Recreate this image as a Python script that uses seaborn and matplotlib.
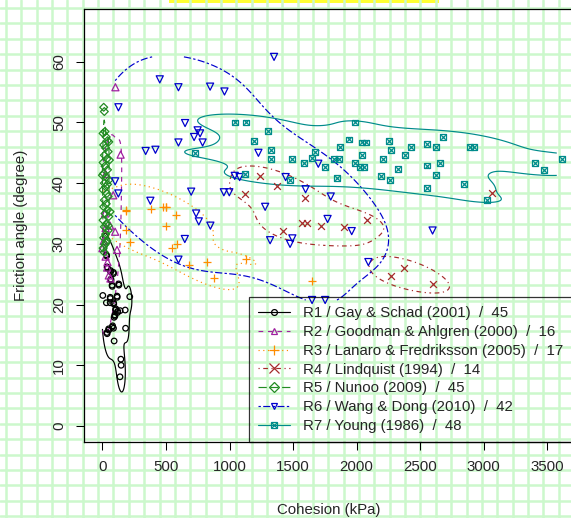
import numpy as np
import pandas as pd
import matplotlib
matplotlib.use("Agg")
import matplotlib.pyplot as plt
from matplotlib.lines import Line2D
from matplotlib.patches import Rectangle
import seaborn as sns

# ---------------- data ----------------
r1_x = [31, 37, 64, 87, 66, 76, 129, 61, 116, 215, 31, 61, 88, 104, 120, 139, 179, 98, 92, 78,
        49, 87, 182, 37, 92, 145, 147, 138,
        33, 38, 65, 86, 67, 77, 128, 62, 115, 3, 89, 105, 119, 97, 80, 50, 36]
r1_y = [28.2, 26.2, 25.6, 25.1, 24.2, 23.2, 23.2, 21.2, 21.2, 21.3, 20.3, 20.3, 20.3, 19.1, 18.9, 19.0,
        19.1, 18.1, 17.9, 16.3, 16.0, 16.1, 16.1, 15.2, 14.0, 11.0, 10.0, 8.1,
        28.0, 26.0, 25.4, 25.3, 24.0, 23.0, 23.4, 21.0, 21.4, 21.5, 20.1, 19.3, 18.7, 18.3, 16.5, 15.8, 15.4]

r2_x = [102, 143, 25, 85, 20, 60, 25, 100, 0, 115, 25, 37, 63, 50, 10, 40]
r2_y = [55.8, 44.7, 41.5, 38.0, 35.0, 33.0, 32.6, 32.0, 29.3, 29.0, 27.9, 26.1, 24.3, 24.8, 30.5, 27.0]

r3_x = [182, 385, 480, 499, 576, 497, 188, 218, 585, 546, 684, 823, 876, 1133, 1652, 500, 185]
r3_y = [35.4, 35.8, 36.0, 36.0, 34.7, 32.9, 32.3, 30.3, 29.9, 29.3, 26.6, 27.0, 24.3, 27.5, 23.8, 36.1, 35.5]

r4_x = [1238, 1370, 1124, 1419, 1594, 1571, 1606, 1722, 1901, 2083, 2375, 2271, 2597, 3067]
r4_y = [41.2, 39.6, 38.2, 32.2, 37.6, 33.4, 33.4, 32.9, 32.8, 33.9, 26.1, 24.7, 23.4, 38.3]

r5_x = [10, 15, 20, 5, 30, 40, 10, 25, 45, 15, 35, 5, 20, 40, 10, 30, 50, 15, 25, 5, 35, 45, 15,
        30, 10, 40, 20, 50, 5, 30, 15, 45, 25, 10, 35, 20, 5, 15, 40, 0, 55, 60, 45, 50, 30]
r5_y = [52.5, 51.8, 48.5, 48.2, 47.6, 47.0, 46.3, 45.8, 45.2, 44.6, 44.0, 43.4, 42.8, 42.2, 41.6,
        41.0, 40.5, 40.0, 39.4, 38.9, 38.3, 37.8, 37.2, 36.6, 36.1, 35.6, 35.0, 34.5, 33.9, 33.3,
        32.8, 32.2, 31.6, 31.0, 30.5, 29.9, 29.3, 28.6, 39.8, 41.3, 43.8, 35.3, 33.0, 46.8, 30.2]

r6_x = [1350, 451, 598, 847, 960, 126, 100, 125, 650, 749, 721, 768, 598, 788, 340, 417, 1227, 1041,
        1079, 1441, 698, 955, 998, 1280, 377, 737, 758, 849, 648, 1319, 1494, 1476, 598, 1698, 1598,
        1796, 1771, 1961, 2597, 2092, 1649, 1752]
r6_y = [60.8, 57.1, 55.8, 55.9, 55.1, 52.5, 40.3, 38.3, 49.9, 48.7, 47.6, 48.2, 46.7, 46.7, 45.3,
        45.5, 45.0, 41.2, 41.0, 41.0, 38.6, 38.5, 38.5, 36.1, 37.1, 35.0, 33.7, 33.0, 30.8, 30.6,
        30.9, 30.0, 27.4, 43.2, 39.0, 37.8, 34.1, 32.1, 32.2, 27.0, 20.75, 20.75]

r7_x = [730, 1040, 1128, 1300, 1195, 1325, 1325, 1490, 1122, 1476, 1586, 1650, 1670, 1752, 1825,
        1864, 1872, 1943, 1987, 2040, 2074, 2040, 1985, 2027, 2058, 1844, 2190, 2263, 2208, 2257,
        2268, 2383, 2323, 2426, 2551, 2622, 2682, 2551, 2654, 2622, 2551, 2842, 2890, 2926, 3023,
        3403, 3476, 3618]
r7_y = [45, 50, 50, 48.6, 47, 45.5, 44, 44, 41.5, 40.5, 43.3, 44.1, 45.1, 42.7, 44, 44, 46, 47.2,
        50, 46.7, 46.7, 44.6, 43.3, 42.6, 42.7, 40.9, 41.2, 40.5, 44, 46.9, 45.5, 44.6, 42.4, 46,
        46.5, 46, 47.6, 42.9, 43.3, 41.3, 39.2, 39.8, 46, 46, 37.2, 43.3, 42.1, 44]

labels = ["R1 / Gay & Schad (2001)  /  45",
          "R2 / Goodman & Ahlgren (2000)  /  16",
          "R3 / Lanaro & Fredriksson (2005)  /  17",
          "R4 / Lindquist (1994)  /  14",
          "R5 / Nunoo (2009)  /  45",
          "R6 / Wang & Dong (2010)  /  42",
          "R7 / Young (1986)  /  48"]
x_ticks = [0, 500, 1000, 1500, 2000, 2500, 3000, 3500]
y_ticks = [0, 10, 20, 30, 40, 50, 60]

# ---------------- style ----------------
sns.set_style("white")
plt.rcParams["font.family"] = ["Liberation Sans", "DejaVu Sans"]
FS = 10.8

POS = ((0, None), (None, None))
groups = [
    dict(x=r1_x, y=r1_y, color="#000000", marker="o", ls="-", size=16, level=0.05, bw=1.0, cut=3, clip=POS),
    dict(x=r2_x, y=r2_y, color="#A020A0", marker="^", ls=(0, (4, 4)), size=26, level=0.2, bw=1.3, cut=3, clip=POS),
    dict(x=r3_x, y=r3_y, color="#FF8C00", marker="+", ls=(0, (1, 3)), size=40, level=0.2, bw=0.85, cut=3, clip=POS),
    dict(x=r4_x, y=r4_y, color="#A52A2A", marker="x", ls=(0, (1, 3, 4, 3)), size=24, level=0.35, bw=0.6, cut=3, clip=None),
    dict(x=r5_x, y=r5_y, color="#228B22", marker="D", ls=(0, (7, 3)), size=16, level=0.2, bw=0.9, cut=0, clip=None),
    dict(x=r6_x, y=r6_y, color="#0000CD", marker="v", ls=(0, (2, 2, 6, 2)), size=26, level=0.12, bw=1.1, cut=0, clip=None),
    dict(x=r7_x, y=r7_y, color="#008B8B", marker="s", ls="-", size=18, level=0.1, bw=0.8, cut=3,
         clip=((None, 3574), (None, None))),
]

fig = plt.figure(figsize=(5.71, 5.18), dpi=100)

# graph-paper background
bg = fig.add_axes([0, 0, 1, 1], zorder=0)
bg.set_xlim(0, 571)
bg.set_ylim(518, 0)
bg.axis("off")
grid_c = "#ccf8cc"
for gx in np.arange(6, 575, 15.35):
    bg.axvline(gx, color=grid_c, lw=1.8)
for gy in np.arange(8, 522, 15.4):
    bg.axhline(gy, color=grid_c, lw=1.8)
bg.add_patch(Rectangle((169, -1), 270, 3.5, color="#ffff33", lw=0))

ax = fig.add_axes([84 / 571, 76 / 518, (580.8 - 84) / 571, (442 - 9.3) / 518], zorder=1)
ax.patch.set_alpha(0)

handles = []
for g in groups:
    c = g["color"]
    sns.kdeplot(x=g["x"], y=g["y"], levels=[g["level"]], bw_adjust=g["bw"], cut=g["cut"],
                clip=g["clip"], color=c, linestyles=[g["ls"]], linewidths=0.85, ax=ax)
    if g["marker"] in ("+", "x"):
        sns.scatterplot(x=g["x"], y=g["y"], marker=g["marker"], color=c, s=g["size"],
                        linewidth=0.9, ax=ax, zorder=3)
        h = Line2D([0], [0], color=c, ls=g["ls"], lw=0.85, marker=g["marker"], ms=6.5, mew=0.9)
    elif g["marker"] == "s":
        sns.scatterplot(x=g["x"], y=g["y"], marker="s", facecolor="none", edgecolor=c,
                        s=g["size"], linewidth=0.9, ax=ax, zorder=3)
        sns.scatterplot(x=g["x"], y=g["y"], marker="x", color=c, s=g["size"] * 0.6,
                        linewidth=0.9, ax=ax, zorder=3)
        h = (Line2D([0], [0], color=c, ls=g["ls"], lw=0.85, marker="s", ms=5, mfc="none", mec=c, mew=0.9),
             Line2D([0], [0], color=c, ls="none", marker="x", ms=4, mew=0.9))
    else:
        sns.scatterplot(x=g["x"], y=g["y"], marker=g["marker"], facecolor="none", edgecolor=c,
                        s=g["size"], linewidth=0.9, ax=ax, zorder=3)
        h = Line2D([0], [0], color=c, ls=g["ls"], lw=0.85, marker=g["marker"],
                   ms=5 if g["marker"] != "o" else 4.2, mfc="none", mec=c, mew=0.9)
    handles.append(h)

ax.set_xlim(-145, 3763)
ax.set_ylim(-2.64, 68.64)
ax.set_xticks(x_ticks)
ax.set_yticks(y_ticks)
ax.set_xticklabels([str(v) for v in x_ticks], fontsize=FS)
ax.set_yticklabels([str(v) for v in y_ticks], fontsize=FS, rotation=90, va="center")
ax.tick_params(direction="out", length=6, width=0.75, color="black", pad=7, bottom=True, left=True)
for sp in ax.spines.values():
    sp.set_visible(True)
    sp.set_color("black")
    sp.set_linewidth(0.9)

ax.set_xlabel("Cohesion (kPa)", fontsize=FS)
ax.set_ylabel("Friction angle (degree)", fontsize=FS)
ax.xaxis.set_label_coords((329 - 84) / 496.8, -(510 - 442) / 432.7)
ax.yaxis.set_label_coords((21 - 84) / 496.8, 0.5)
ax.xaxis.label.set_va("center")
ax.yaxis.label.set_va("center")

leg = ax.legend(handles, labels, loc="lower left", bbox_to_anchor=((249 - 84) / 496.8, 0),
                borderaxespad=0, fontsize=FS, frameon=True, fancybox=False, handlelength=2.1,
                handletextpad=0.9, labelspacing=0.32, borderpad=0.6)
fr = leg.get_frame()
fr.set_facecolor("none")
fr.set_edgecolor("black")
fr.set_linewidth(0.9)

fig.savefig("out.png", dpi=100)
